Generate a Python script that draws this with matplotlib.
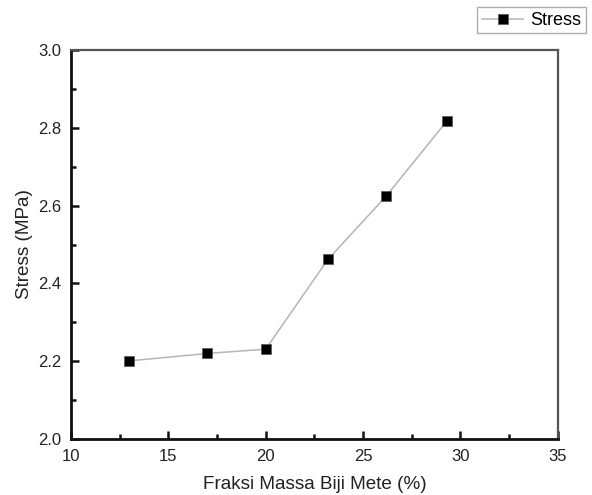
import matplotlib
matplotlib.use('Agg')
import matplotlib.pyplot as plt
from matplotlib.ticker import MultipleLocator

# data
fraksi = [13, 17, 20, 23.2, 26.2, 29.3]
stress = [2.201, 2.220, 2.231, 2.462, 2.625, 2.817]

plt.rcParams['font.family'] = ['Liberation Sans', 'DejaVu Sans']

fig = plt.figure(figsize=(5.92, 4.95), dpi=100)
ax = fig.add_axes([0.120, 0.113, 0.822, 0.786])

ax.plot(fraksi, stress, '-', color='#b5b5b5', lw=1.1, marker='s', ms=6.5,
        mfc='black', mec='#555555', mew=0.5, label='Stress')

ax.set(xlim=(10, 35), ylim=(2.0, 3.0))
ax.xaxis.set_major_locator(MultipleLocator(5))
ax.xaxis.set_minor_locator(MultipleLocator(2.5))
ax.yaxis.set_major_locator(MultipleLocator(0.2))
ax.yaxis.set_minor_locator(MultipleLocator(0.1))
ax.tick_params(which='both', direction='in', top=False, right=False,
               labelsize=12, colors='#111111', labelcolor='#222222', width=1.8)
ax.tick_params(which='major', length=6, pad=7)
ax.tick_params(which='minor', length=3.5)

for s in ['left', 'bottom']:
    ax.spines[s].set_linewidth(2.0)
    ax.spines[s].set_color('#111111')
for s in ['top', 'right']:
    ax.spines[s].set_linewidth(1.6)
    ax.spines[s].set_color('#555555')

ax.set_xlabel('Fraksi Massa Biji Mete (%)', fontsize=13.6, color='#222222', labelpad=9)
ax.set_ylabel('Stress (MPa)', fontsize=13.6, color='#222222', labelpad=4)

leg = ax.legend(loc='upper right', bbox_to_anchor=(0.99, 0.985), bbox_transform=fig.transFigure,
                fontsize=13, frameon=True, fancybox=False, handlelength=2.3,
                borderpad=0.25, handletextpad=0.4, borderaxespad=0)
leg.get_frame().set_edgecolor('#999999')
leg.get_frame().set_linewidth(1.0)

fig.savefig('out.png', dpi=100)
